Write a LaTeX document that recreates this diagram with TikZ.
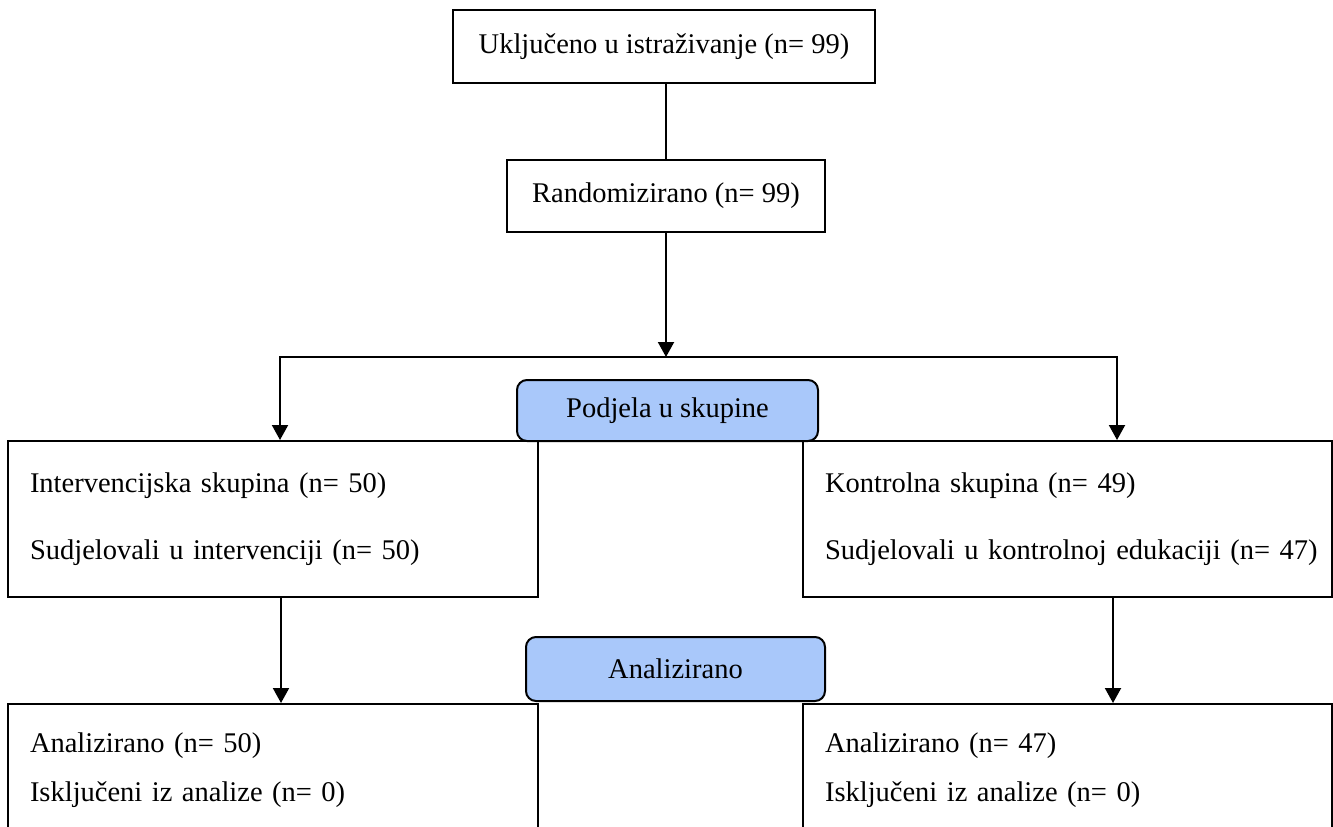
\documentclass[tikz,border=0pt]{standalone}
\usepackage{fontspec}
\setmainfont{Liberation Serif}
\usetikzlibrary{arrows.meta}
\definecolor{bluefill}{RGB}{169,200,250}
\begin{document}
\begin{tikzpicture}[x=1pt,y=-1pt,
  every node/.style={font=\fontsize{28.5}{34.2}\selectfont},
  box/.style={draw, line width=2pt, inner sep=0pt},
  sidebox/.style={draw, line width=2pt, inner ysep=0pt, inner xsep=22pt, align=left},
  bluebox/.style={draw, line width=2pt, fill=bluefill, rounded corners=10pt, inner sep=0pt},
  conn/.style={line width=2pt},
  arr/.style={line width=2pt, -{Triangle[width=16pt,length=15pt]}},
]
\useasboundingbox (0,0) rectangle (1333,827);
\clip (0,0) rectangle (1333,827);

\node[box, minimum width=422pt, minimum height=73pt] (top) at (664,46.5) {Uključeno u istraživanje (n= 99)};
\node[box, minimum width=318pt, minimum height=72pt] (rand) at (666,196) {Randomizirano (n= 99)};
\node[bluebox, minimum width=301pt, minimum height=61pt] (pod) at (667.5,410.5) {Podjela u skupine};
\node[sidebox, text width=486pt, minimum height=156pt] (left1) at (273,519)
  {\mbox{Intervencijska skupina (n= 50)}\\[33pt]\mbox{Sudjelovali u intervenciji (n= 50)}};
\node[sidebox, text width=485pt, minimum height=156pt] (right1) at (1067.5,519)
  {\mbox{Kontrolna skupina (n= 49)}\\[33pt]\mbox{Sudjelovali u kontrolnoj edukaciji (n= 47)}};
\node[bluebox, minimum width=299pt, minimum height=64pt] (an) at (675.5,669) {Analizirano};
\node[sidebox, text width=486pt, minimum height=133pt] (left2) at (273,770.5)
  {\mbox{Analizirano (n= 50)}\\[15pt]\mbox{Isključeni iz analize (n= 0)}};
\node[sidebox, text width=485pt, minimum height=133pt] (right2) at (1067.5,770.5)
  {\mbox{Analizirano (n= 47)}\\[15pt]\mbox{Isključeni iz analize (n= 0)}};

\coordinate (split) at (666,357);
\coordinate (hl) at (280,357);
\coordinate (hr) at (1117,357);

\draw[conn] (top.south -| rand.north) -- (rand.north);
\draw[arr] (rand.south) -- (split);
\draw[arr] (split) -- (hl) -- (left1.north -| hl);
\draw[arr] (split) -- (hr) -- (right1.north -| hr);
\draw[arr] ([xshift=8pt]left1.south) -- ([xshift=8pt]left1.south |- left2.north);
\draw[arr] ([xshift=45.5pt]right1.south) -- ([xshift=45.5pt]right1.south |- right2.north);
\end{tikzpicture}
\end{document}
